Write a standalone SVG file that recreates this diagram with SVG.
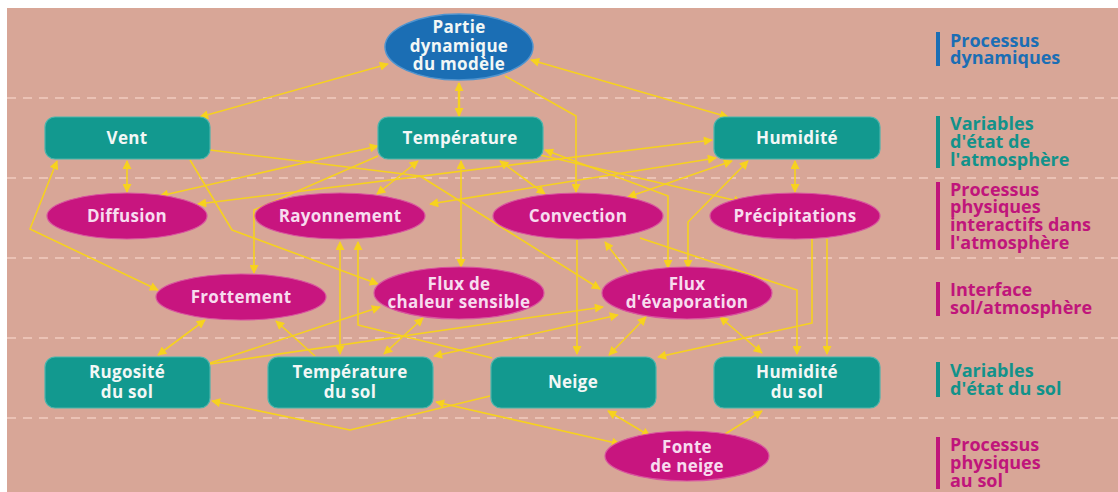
<svg xmlns="http://www.w3.org/2000/svg" width="1118" height="492" viewBox="0 0 1118 492">
<defs>
<style>
.bg{fill:#d8a697}
.dash{stroke:#f1cbc0;stroke-width:1.5;stroke-dasharray:9 7;fill:none}
.blue{fill:#1b6eb4;stroke:#4f94cf;stroke-width:1.5}
.teal{fill:#12998f;stroke:#4bb5ac;stroke-width:1.2}
.mag{fill:#c8157f;stroke:#d8559f;stroke-width:1.2}
.t{font-family:"Open Sans","Liberation Sans",sans-serif;font-weight:700;font-size:17px;text-anchor:middle;letter-spacing:0.3px}
.tw{fill:#f2f7f6}
.tp{fill:#f7dcef}
.lab{font-family:"Open Sans","Liberation Sans",sans-serif;font-weight:700;font-size:18px}
.c path{fill:none;stroke:#f6d11f;stroke-width:1.6;stroke-linejoin:round}
.b{marker-start:url(#ah);marker-end:url(#ah)}
.e{marker-end:url(#ah)}
.s{marker-start:url(#ah)}
</style>
<marker id="ah" viewBox="0 0 10 10" refX="9" refY="5" markerWidth="10" markerHeight="9" markerUnits="userSpaceOnUse" orient="auto-start-reverse">
<path d="M0,0 L10,5 L0,10 z" fill="#f7d21e"/>
</marker>
</defs>
<rect width="1118" height="492" fill="#ffffff"/>
<rect class="bg" x="7" y="8" width="1111" height="484"/>
<g id="separators">
<line class="dash" x1="7" y1="98" x2="1118" y2="98"/>
<line class="dash" x1="7" y1="178" x2="1118" y2="178"/>
<line class="dash" x1="7" y1="258" x2="1118" y2="258"/>
<line class="dash" x1="7" y1="338" x2="1118" y2="338"/>
<line class="dash" x1="7" y1="418" x2="1118" y2="418"/>
</g>
<g id="connectors" class="c">
<path class="b" d="M388,64 L200,117"/>
<path class="b" d="M459,83 L459,116" style="stroke-width:2.4"/>
<path class="b" d="M531,60 L728,117"/>
<path class="e" d="M505,76 L576,116 L576,192"/>
<path class="b" d="M127,161 L127,192"/>
<path class="b" d="M795,161 L795,192"/>
<path class="b" d="M500,161 L545,194"/>
<path class="e" d="M540,155 L742,202"/>
<path class="b" d="M418,161 L377,194"/>
<path class="b" d="M461,161 L461,267"/>
<path class="b" d="M160,196 L378,146"/>
<path class="e" d="M378,156 L254,210 L254,273"/>
<path class="b" d="M712,140 L198,204"/>
<path class="b" d="M716,158 L430,204"/>
<path class="b" d="M732,161 L628,197"/>
<path class="b" d="M748,161 L688,222 L688,268"/>
<path class="b" d="M545,150 L668,196 L668,268"/>
<path class="b" d="M57,161 L30,229 L158,290"/>
<path class="e" d="M190,160 L232,230 L378,284"/>
<path class="e" d="M210,150 L420,176 L600,289"/>
<path class="b" d="M340,242 L340,354"/>
<path class="s" d="M358,242 L358,325 L492,358"/>
<path class="b" d="M158,355 L205,320"/>
<path class="e" d="M315,356 L276,321"/>
<path class="e" d="M210,363 L380,307"/>
<path class="e" d="M210,364 L603,307"/>
<path class="b" d="M423,318 L384,354"/>
<path class="b" d="M618,315 L434,356"/>
<path class="e" d="M577,240 L577,354"/>
<path class="e" d="M628,272 L605,242"/>
<path class="b" d="M646,317 L609,355"/>
<path class="b" d="M720,317 L762,353"/>
<path class="e" d="M640,238 L797,290 L797,354"/>
<path class="e" d="M827,239 L827,354"/>
<path class="e" d="M812,239 L812,323 L658,357"/>
<path class="b" d="M436,402 L620,444"/>
<path class="e" d="M490,396 L350,430 L212,401"/>
<path class="b" d="M608,411 L650,436"/>
<path class="e" d="M722,436 L762,411"/>
</g>
<g id="partie"><ellipse class="blue" cx="459" cy="47" rx="74" ry="33"/><text class="t tw"><tspan x="459" y="33">Partie</tspan><tspan x="459" y="52">dynamique</tspan><tspan x="459" y="70">du modèle</tspan></text></g>
<g id="vent"><rect class="teal" x="45" y="117" width="165" height="42" rx="10"/><text class="t tw" x="127" y="144">Vent</text></g>
<g id="temperature"><rect class="teal" x="378" y="117" width="165" height="42" rx="10"/><text class="t tw" x="460" y="144">Température</text></g>
<g id="humidite"><rect class="teal" x="714" y="117" width="166" height="42" rx="10"/><text class="t tw" x="797" y="144">Humidité</text></g>
<g id="diffusion"><ellipse class="mag" cx="127" cy="216" rx="80" ry="23"/><text class="t tp" x="127" y="222">Diffusion</text></g>
<g id="rayonnement"><ellipse class="mag" cx="340" cy="216" rx="85" ry="23"/><text class="t tp" x="340" y="222">Rayonnement</text></g>
<g id="convection"><ellipse class="mag" cx="578" cy="216" rx="85" ry="23"/><text class="t tp" x="578" y="222">Convection</text></g>
<g id="precipitations"><ellipse class="mag" cx="795" cy="216" rx="85" ry="23"/><text class="t tp" x="795" y="222">Précipitations</text></g>
<g id="frottement"><ellipse class="mag" cx="241" cy="297" rx="85" ry="23"/><text class="t tp" x="241" y="303">Frottement</text></g>
<g id="flux-chaleur"><ellipse class="mag" cx="459" cy="293" rx="85" ry="26"/><text class="t tp"><tspan x="459" y="290">Flux de</tspan><tspan x="459" y="308">chaleur sensible</tspan></text></g>
<g id="flux-evaporation"><ellipse class="mag" cx="687" cy="293" rx="85" ry="26"/><text class="t tp"><tspan x="687" y="290">Flux</tspan><tspan x="687" y="308">d'évaporation</tspan></text></g>
<g id="rugosite"><rect class="teal" x="45" y="357" width="165" height="51" rx="10"/><text class="t tw"><tspan x="127" y="378">Rugosité</tspan><tspan x="127" y="398">du sol</tspan></text></g>
<g id="temperature-sol"><rect class="teal" x="268" y="357" width="165" height="51" rx="10"/><text class="t tw"><tspan x="350" y="378">Température</tspan><tspan x="350" y="398">du sol</tspan></text></g>
<g id="neige"><rect class="teal" x="491" y="357" width="165" height="51" rx="10"/><text class="t tw" x="573" y="388">Neige</text></g>
<g id="humidite-sol"><rect class="teal" x="714" y="357" width="166" height="51" rx="10"/><text class="t tw"><tspan x="797" y="378">Humidité</tspan><tspan x="797" y="398">du sol</tspan></text></g>
<g id="fonte"><ellipse class="mag" cx="687" cy="456" rx="82" ry="25"/><text class="t tp"><tspan x="687" y="453">Fonte</tspan><tspan x="687" y="472">de neige</tspan></text></g>
<g id="legend">
<rect x="936" y="32" width="4" height="34" fill="#1b6eb4"/>
<text class="lab" fill="#1b6eb4"><tspan x="950" y="47">Processus</tspan><tspan x="950" y="64">dynamiques</tspan></text>
<rect x="936" y="116" width="4" height="52" fill="#12928a"/>
<text class="lab" fill="#12928a"><tspan x="950" y="130">Variables</tspan><tspan x="950" y="148">d'état de</tspan><tspan x="950" y="166">l'atmosphère</tspan></text>
<rect x="936" y="182" width="4" height="68" fill="#c0157b"/>
<text class="lab" fill="#c0157b"><tspan x="950" y="196">Processus</tspan><tspan x="950" y="213">physiques</tspan><tspan x="950" y="231">interactifs dans</tspan><tspan x="950" y="249">l'atmosphère</tspan></text>
<rect x="936" y="282" width="4" height="34" fill="#c0157b"/>
<text class="lab" fill="#c0157b"><tspan x="950" y="296">Interface</tspan><tspan x="950" y="314">sol/atmosphère</tspan></text>
<rect x="936" y="362" width="4" height="35" fill="#12928a"/>
<text class="lab" fill="#12928a"><tspan x="950" y="377">Variables</tspan><tspan x="950" y="395">d'état du sol</tspan></text>
<rect x="936" y="437" width="4" height="52" fill="#c0157b"/>
<text class="lab" fill="#c0157b"><tspan x="950" y="451">Processus</tspan><tspan x="950" y="469">physiques</tspan><tspan x="950" y="487">au sol</tspan></text>
</g>
</svg>
